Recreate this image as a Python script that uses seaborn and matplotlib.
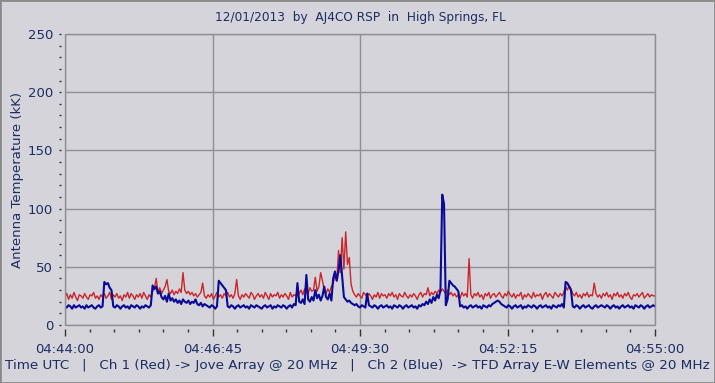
import matplotlib

matplotlib.use("Agg")
import matplotlib.pyplot as plt
import numpy as np
import pandas as pd
import seaborn as sns
from matplotlib.patches import Rectangle
from matplotlib.ticker import MultipleLocator

# samples every 2 s starting 04:44:00 (seconds after start)
SAMPLE_STEP = 2

# Ch 1 (red) - Jove Array, antenna temperature in kK
ch1_red = [
    24, 27, 22, 26, 23, 28, 24, 21, 26, 25,
    23, 27, 24, 22, 26, 25, 28, 23, 25, 22,
    26, 24, 27, 23, 25, 28, 22, 26, 24, 27,
    23, 25, 21, 26, 24, 28, 23, 27, 25, 22,
    26, 24, 27, 23, 28, 25, 22, 26, 24, 29,
    31, 40, 28, 32, 27, 30, 33, 39, 29, 27,
    30, 26, 29, 27, 31, 28, 45, 30, 27, 29,
    26, 28, 25, 27, 24, 26, 28, 36, 25, 23,
    26, 24, 27, 22, 25, 28, 24, 26, 23, 27,
    25, 28, 24, 26, 23, 27, 39, 25, 22, 26,
    24, 27, 25, 23, 28, 26, 22, 25, 27, 24,
    26, 23, 28, 25, 22, 27, 24, 26, 25, 28,
    23, 26, 24, 27, 25, 22, 28, 24, 26, 25,
    29, 27, 30, 26, 31, 28, 27, 32, 29, 30,
    41, 29, 33, 45, 38, 30, 27, 31, 28, 33,
    36, 42, 38, 64, 45, 75, 48, 80, 52, 58,
    35, 29, 26, 24, 27, 25, 23, 28, 26, 24,
    27, 25, 22, 26, 24, 28, 23, 27, 25, 26,
    23, 27, 25, 28, 24, 26, 22, 27, 25, 24,
    28, 25, 23, 26, 24, 27, 25, 22, 26, 28,
    24, 27, 26, 32, 25, 28, 26, 29, 27, 30,
    28, 31, 29, 27, 30, 26, 28, 25, 27, 24,
    26, 23, 28, 25, 27, 24, 57, 26, 23, 27,
    25, 28, 24, 26, 22, 27, 25, 28, 23, 26,
    27, 24, 26, 28, 25, 23, 27, 25, 29, 26,
    24, 27, 23, 26, 25, 28, 22, 26, 24, 27,
    25, 23, 28, 24, 26, 25, 27, 22, 26, 28,
    24, 27, 25, 23, 28, 26, 24, 27, 25, 28,
    33, 30, 34, 31, 27, 25, 28, 24, 26, 23,
    27, 25, 28, 24, 26, 25, 36, 27, 24, 26,
    23, 27, 25, 28, 24, 26, 22, 27, 25, 28,
    24, 26, 23, 27, 25, 28, 24, 22, 26, 25,
    27, 24, 26, 28, 23, 25, 27, 24, 26, 25,
    25,
]

# Ch 2 (blue) - TFD Array E-W elements, antenna temperature in kK
ch2_blue = [
    16, 15, 17, 16, 14, 17, 15, 16, 17, 15,
    16, 14, 17, 15, 16, 17, 15, 14, 16, 17,
    15, 16, 37, 35, 36, 32, 30, 16, 15, 17,
    16, 14, 16, 17, 15, 16, 14, 17, 16, 15,
    17, 16, 14, 16, 15, 17, 16, 15, 17, 34,
    31, 33, 27, 29, 24, 22, 25, 20, 27, 21,
    23, 20, 22, 19, 21, 18, 22, 20, 19, 21,
    18, 20, 19, 22, 18, 17, 19, 16, 18, 17,
    16, 15, 17, 16, 14, 16, 38, 36, 34, 32,
    30, 16, 15, 17, 16, 14, 16, 17, 15, 16,
    17, 15, 16, 14, 17, 16, 15, 17, 16, 15,
    14, 16, 17, 15, 16, 17, 14, 16, 15, 17,
    16, 15, 17, 16, 14, 16, 17, 15, 18, 17,
    36, 20, 19, 22, 18, 43, 22, 20, 24, 21,
    30, 23, 26, 21, 25, 33, 24, 22, 27, 21,
    40, 46, 38, 47, 60, 42, 24, 22, 20, 21,
    19, 18, 17, 18, 16, 15, 17, 16, 15, 27,
    17, 16, 15, 17, 16, 14, 16, 17, 15, 16,
    17, 15, 16, 14, 17, 16, 15, 17, 16, 14,
    16, 17, 15, 16, 17, 15, 16, 14, 17, 16,
    18, 17, 20, 18, 22, 19, 24, 21, 26, 23,
    30, 112, 104, 17, 22, 38, 36, 34, 33, 31,
    29, 16, 17, 15, 16, 14, 16, 17, 15, 16,
    17, 15, 16, 14, 17, 16, 15, 17, 16, 18,
    19, 20, 21, 20, 18, 17, 16, 15, 17, 16,
    14, 16, 17, 15, 16, 17, 14, 16, 15, 17,
    16, 15, 17, 16, 14, 16, 17, 15, 16, 17,
    15, 16, 14, 17, 16, 15, 17, 16, 18, 15,
    37, 36, 33, 30, 16, 15, 17, 16, 14, 16,
    17, 15, 16, 17, 15, 14, 16, 17, 15, 16,
    17, 16, 15, 17, 16, 14, 16, 17, 15, 16,
    14, 16, 17, 15, 16, 17, 15, 16, 14, 17,
    16, 15, 17, 16, 14, 16, 17, 15, 16, 17,
    16,
]

x_tick_seconds = [0, 165, 330, 495, 660]
x_tick_labels = ["04:44:00", "04:46:45", "04:49:30", "04:52:15", "04:55:00"]
title_text = "12/01/2013  by  AJ4CO RSP  in  High Springs, FL"
y_label = "Antenna Temperature (kK)"
footer_text = ("Time UTC   |   Ch 1 (Red) -> Jove Array @ 20 MHz   |   "
               "Ch 2 (Blue)  -> TFD Array E-W Elements @ 20 MHz")

BG = "#d5d4db"
NAVY = "#1b2d63"
GRID = "#8f8f96"

sns.set_theme(style="white")
plt.rcParams["font.family"] = ["DejaVu Sans"]

seconds = np.arange(len(ch1_red)) * SAMPLE_STEP
df = pd.DataFrame({"t": seconds, "red": ch1_red, "blue": ch2_blue})

fig = plt.figure(figsize=(7.15, 3.83), dpi=100)
fig.patch.set_facecolor(BG)
ax = fig.add_axes([65 / 715, 1 - 325 / 383, 590 / 715, 291 / 383])
ax.set_facecolor(BG)

sns.lineplot(data=df, x="t", y="red", ax=ax, color="#c8262a", linewidth=1.0)
sns.lineplot(data=df, x="t", y="blue", ax=ax, color="#0a0a96", linewidth=1.5)

ax.set_xlim(0, 660)
ax.set_ylim(0, 250)
ax.set_xticks(x_tick_seconds, x_tick_labels)
ax.xaxis.set_minor_locator(MultipleLocator(27.5))
ax.yaxis.set_major_locator(MultipleLocator(50))
ax.yaxis.set_minor_locator(MultipleLocator(10))

ax.grid(True, which="major", color=GRID, linewidth=1.0)

# detached tick marks: push the spines out and hide them, draw the frame separately
for side in ["left", "bottom"]:
    ax.spines[side].set_position(("outward", 3))
    ax.spines[side].set_visible(False)
for side in ["top", "right"]:
    ax.spines[side].set_visible(False)
ax.add_patch(Rectangle((0, 0), 1, 1, transform=ax.transAxes, fill=False,
                       edgecolor=GRID, linewidth=1.0, clip_on=False, zorder=5))

ax.tick_params(axis="y", which="both", direction="out", length=1.6, width=1,
               color="#333333", labelsize=9.5, labelcolor=NAVY, pad=4, left=True)
ax.tick_params(axis="x", which="major", direction="out", length=5, width=1,
               color="#333333", labelsize=9.5, labelcolor=NAVY, pad=5, bottom=True)
ax.tick_params(axis="x", which="minor", direction="out", length=2, width=1,
               color="#333333", bottom=True)

ax.set_xlabel("")
ax.set_ylabel(y_label, color=NAVY, fontsize=9.5)
ax.yaxis.set_label_coords(-0.07, 0.5)

fig.text(360 / 715, 1 - 17 / 383, title_text, ha="center", va="center",
         color=NAVY, fontsize=8.7)
fig.text(5 / 715, 1 - 365 / 383, footer_text, ha="left", va="center",
         color=NAVY, fontsize=9.7)

fig.patches.append(Rectangle((0, 0), 1, 1, transform=fig.transFigure, fill=False,
                             edgecolor="#8a8a8a", linewidth=2, zorder=10))

fig.savefig("out.png", dpi=100, facecolor=BG)
